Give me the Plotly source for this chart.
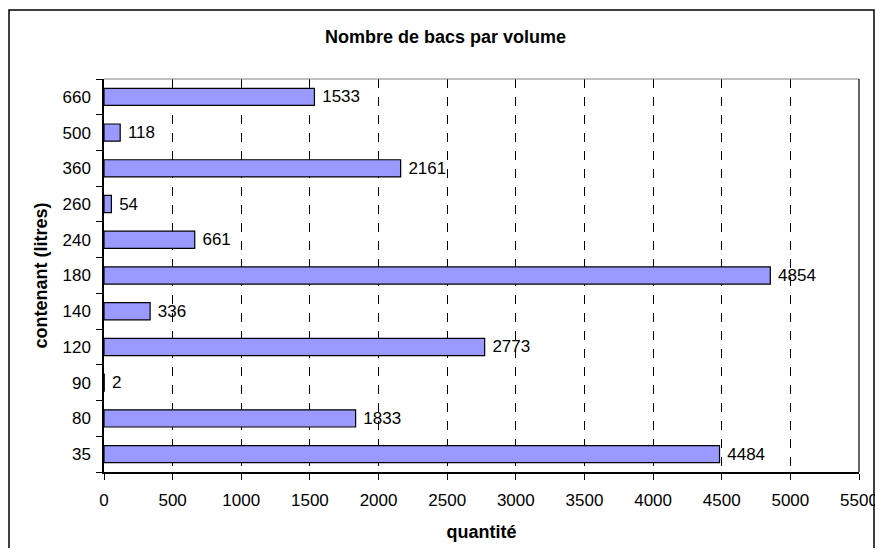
import plotly.graph_objects as go

categories = ["35", "80", "90", "120", "140", "180", "240", "260", "360", "500", "660"]
values = [4484, 1833, 2, 2773, 336, 4854, 661, 54, 2161, 118, 1533]
x_ticks = list(range(0, 5501, 500))

# page body has an 8px margin: figure coordinates = screen - 8
W, H = 875, 540
L, R, T, B = 96, 24, 71, 76
pw, ph = W - L - R, H - T - B

fig = go.Figure(go.Bar(
    y=categories, x=values, orientation="h",
    marker=dict(color="#9999FF", line=dict(color="black", width=1.2)),
    text=[" " + str(v) for v in values], textposition="outside",
    constraintext="none",
    textfont=dict(family="Liberation Sans, Arial", size=17, color="black"),
    cliponaxis=False,
))

def px_x(p):
    return (p - L) / pw

def px_y(p):
    return 1 - (p - T) / ph

fig.update_layout(
    width=W, height=H,
    margin=dict(l=L, r=R, t=T, b=B, autoexpand=False),
    paper_bgcolor="white", plot_bgcolor="white",
    font=dict(family="Liberation Sans, Arial", size=17, color="black"),
    bargap=0.52,
    showlegend=False,
    title=dict(text="<b>Nombre de bacs par volume</b>", x=0.5, xanchor="center",
               y=1 - 29 / H, yanchor="middle", font=dict(size=18)),
    xaxis=dict(
        range=[0, 5500], tickvals=x_ticks, ticktext=[str(v) for v in x_ticks],
        showgrid=True, gridcolor="black", griddash="dash", gridwidth=1,
        showline=True, linecolor="black", linewidth=1.5,
        ticks="outside", ticklen=6, tickcolor="black", ticklabelstandoff=6,
        zeroline=False, automargin=False,
        title=dict(text="<b>quantité</b>", standoff=16, font=dict(size=18)),
    ),
    yaxis=dict(
        type="category", categoryorder="array", categoryarray=categories,
        showline=True, linecolor="black", linewidth=1.5,
        ticks="outside", ticklen=6, tickcolor="black", tickson="boundaries",
        ticklabelstandoff=8,
        showgrid=False, automargin=False,
        title=dict(text="<b>contenant (litres)</b>", standoff=10, font=dict(size=18)),
    ),
    shapes=[
        dict(type="line", xref="paper", yref="paper", x0=0, x1=1, y0=1, y1=1,
             line=dict(color="#808080", width=1.2)),
        dict(type="line", xref="paper", yref="paper", x0=1, x1=1, y0=0, y1=1,
             line=dict(color="black", width=1.2)),
        dict(type="rect", xref="paper", yref="paper",
             x0=px_x(1), x1=px_x(866), y0=px_y(560), y1=px_y(2),
             line=dict(color="black", width=1.5)),
    ],
)

fig.write_html("out.html")
